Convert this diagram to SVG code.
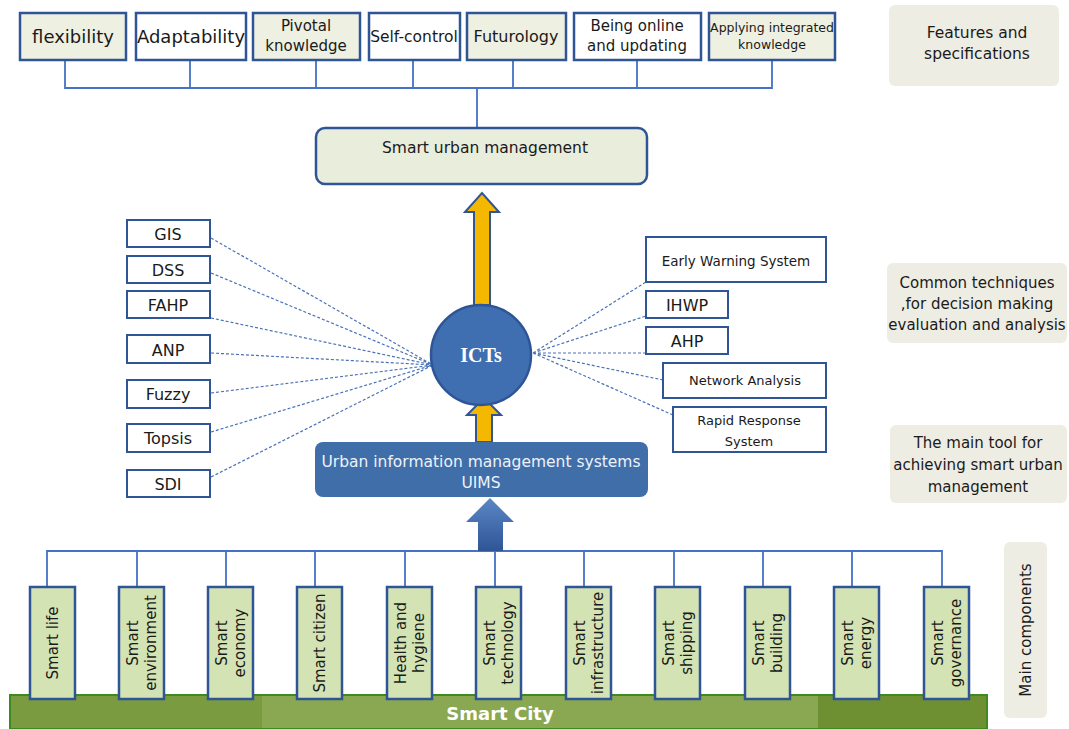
<svg xmlns="http://www.w3.org/2000/svg" width="1069" height="729" viewBox="0 0 1069 729">
<defs>
<style>
text{font-family:"DejaVu Sans","Liberation Sans",sans-serif;fill:#1a1a1a;text-anchor:middle}
.tb{stroke:#2f5597;stroke-width:2.5}
.g{fill:#eef0e1}
.w{fill:#ffffff}
.sb{fill:#ffffff;stroke:#2f5597;stroke-width:2}
.comp{fill:#d4e3b4;stroke:#2f5597;stroke-width:2.5}
.lab{fill:#eeede3}
.ln{stroke:#4472c4;stroke-width:1.8;fill:none}
.ds{stroke:#4a72b8;stroke-width:1.2;stroke-dasharray:3 2;fill:none}
.ya{fill:#f5b800;stroke:#2f5597;stroke-width:2}
</style>
<linearGradient id="ba" x1="0" y1="0" x2="0" y2="1">
<stop offset="0" stop-color="#5b87c5"/><stop offset="1" stop-color="#2f5597"/>
</linearGradient>
</defs>
<rect width="1069" height="729" fill="#ffffff"/>

<!-- Smart City bar -->
<g id="smart-city">
<rect x="10" y="695" width="977" height="34" fill="#7b9b40" stroke="#3f8a1e" stroke-width="2"/>
<rect x="262" y="696" width="556" height="32" fill="#8aa851"/>
<rect x="818" y="696" width="168" height="32" fill="#6f8f33"/>
<text x="500" y="720" font-size="18" font-weight="bold" style="fill:#ffffff">Smart City</text>
</g>

<!-- connectors -->
<g id="connectors">
<path class="ln" d="M65 60V88H772V60M190 60V88M316 60V88M413 60V88M513 60V88M637 60V88M477 88V128"/>
<path class="ln" d="M47 587V551H942V587M137 551V587M226 551V587M315 551V587M405 551V587M495 551V587M584 551V587M674 551V587M763 551V587M852 551V587"/>
<path class="ds" d="M211 238L433 365M211 273L433 365M211 318L433 365M211 353L433 365M211 393L433 365M211 432L433 365M211 477L433 365"/>
<path class="ds" d="M533 353L646 282M533 353L646 316M533 353L646 353M533 353L663 380M533 353L673 415"/>
<path class="ya" d="M474 305V212H465L482 193L499 212H490V305Z"/>
<path class="ya" d="M476 442V415H467L484 398L501 415H492V442Z"/>
<path d="M478 551V522H466L490 498L514 522H503V551Z" fill="url(#ba)"/>
</g>

<!-- top features -->
<g id="flexibility"><rect class="tb g" x="20" y="13" width="106" height="47"/><text x="73" y="43" font-size="18">flexibility</text></g>
<g id="adaptability"><rect class="tb w" x="136" y="13" width="110" height="47"/><text x="191" y="43" font-size="18">Adaptability</text></g>
<g id="pivotal"><rect class="tb g" x="253" y="13" width="107" height="47"/><text x="306" y="31" font-size="15">Pivotal</text><text x="306" y="51" font-size="15">knowledge</text></g>
<g id="self-control"><rect class="tb w" x="369" y="13" width="91" height="47"/><text x="414" y="42" font-size="15.5">Self-control</text></g>
<g id="futurology"><rect class="tb g" x="467" y="13" width="99" height="47"/><text x="516" y="42" font-size="16">Futurology</text></g>
<g id="being-online"><rect class="tb w" x="574" y="13" width="127" height="47"/><text x="637" y="31" font-size="15">Being online</text><text x="637" y="51" font-size="15">and updating</text></g>
<g id="applying"><rect class="tb g" x="709" y="13" width="126" height="47"/><text x="772" y="32" font-size="12.5">Applying integrated</text><text x="772" y="49" font-size="12.5">knowledge</text></g>

<g id="features-label"><rect class="lab" x="889" y="5" width="170" height="81" rx="6"/><text x="977" y="38" font-size="15.5">Features and</text><text x="977" y="59" font-size="15.5">specifications</text></g>

<g id="smart-urban-management"><rect x="316" y="128" width="331" height="56" rx="9" fill="#e9eddc" stroke="#2f5597" stroke-width="2.5"/><text x="485" y="153" font-size="15.5">Smart urban management</text></g>

<g id="icts"><circle cx="481" cy="355" r="50" fill="#3f6fb1" stroke="#2f5597" stroke-width="2.5"/><text x="481" y="362" font-size="20" font-weight="bold" style="font-family:'Liberation Serif',serif;fill:#ffffff">ICTs</text></g>

<!-- left techniques -->
<g id="gis"><rect class="sb" x="127" y="220" width="83" height="27"/><text x="168" y="240" font-size="16">GIS</text></g>
<g id="dss"><rect class="sb" x="127" y="256" width="83" height="27"/><text x="168" y="276" font-size="16">DSS</text></g>
<g id="fahp"><rect class="sb" x="127" y="291" width="83" height="27"/><text x="168" y="311" font-size="16">FAHP</text></g>
<g id="anp"><rect class="sb" x="127" y="335" width="83" height="28"/><text x="168" y="356" font-size="16">ANP</text></g>
<g id="fuzzy"><rect class="sb" x="127" y="380" width="83" height="28"/><text x="168" y="400" font-size="16">Fuzzy</text></g>
<g id="topsis"><rect class="sb" x="127" y="424" width="83" height="28"/><text x="168" y="444" font-size="16">Topsis</text></g>
<g id="sdi"><rect class="sb" x="127" y="470" width="83" height="27"/><text x="168" y="490" font-size="16">SDI</text></g>

<!-- right techniques -->
<g id="early-warning"><rect class="sb" x="646" y="237" width="180" height="45"/><text x="736" y="266" font-size="13.5">Early Warning System</text></g>
<g id="ihwp"><rect class="sb" x="646" y="291" width="82" height="27"/><text x="687" y="311" font-size="16">IHWP</text></g>
<g id="ahp"><rect class="sb" x="646" y="327" width="82" height="27"/><text x="687" y="347" font-size="16">AHP</text></g>
<g id="network-analysis"><rect class="sb" x="663" y="363" width="163" height="35"/><text x="745" y="385" font-size="13">Network Analysis</text></g>
<g id="rapid-response"><rect class="sb" x="673" y="407" width="153" height="45"/><text x="749" y="425" font-size="13">Rapid Response</text><text x="749" y="446" font-size="13">System</text></g>

<g id="common-label"><rect class="lab" x="887" y="263" width="180" height="80" rx="6"/><text x="977" y="288" font-size="15">Common techniques</text><text x="977" y="309" font-size="15">,for decision making</text><text x="977" y="330" font-size="15">evaluation and analysis</text></g>

<g id="uims"><rect x="315" y="442" width="333" height="55" rx="8" fill="#3f6ea8"/><text x="481" y="467" font-size="15.5" style="fill:#eef2fa">Urban information management systems</text><text x="481" y="488" font-size="15.5" style="fill:#eef2fa">UIMS</text></g>

<g id="main-tool-label"><rect class="lab" x="890" y="425" width="177" height="78" rx="6"/><text x="978" y="448" font-size="15">The main tool for</text><text x="978" y="470" font-size="15">achieving smart urban</text><text x="978" y="492" font-size="15">management</text></g>

<!-- components -->
<g id="smart-life"><rect class="comp" x="30" y="587" width="45" height="112"/><text transform="translate(58 643) rotate(-90)" font-size="15">Smart life</text></g>
<g id="smart-environment"><rect class="comp" x="119" y="587" width="45" height="112"/><text transform="translate(138 643) rotate(-90)" font-size="15">Smart</text><text transform="translate(156 643) rotate(-90)" font-size="15">environment</text></g>
<g id="smart-economy"><rect class="comp" x="208" y="587" width="45" height="112"/><text transform="translate(227 643) rotate(-90)" font-size="15">Smart</text><text transform="translate(245 643) rotate(-90)" font-size="15">economy</text></g>
<g id="smart-citizen"><rect class="comp" x="297" y="587" width="45" height="112"/><text transform="translate(325 643) rotate(-90)" font-size="15">Smart citizen</text></g>
<g id="health-hygiene"><rect class="comp" x="387" y="587" width="45" height="112"/><text transform="translate(406 643) rotate(-90)" font-size="15">Health and</text><text transform="translate(424 643) rotate(-90)" font-size="15">hygiene</text></g>
<g id="smart-technology"><rect class="comp" x="476" y="587" width="45" height="112"/><text transform="translate(495 643) rotate(-90)" font-size="15">Smart</text><text transform="translate(513 643) rotate(-90)" font-size="15">technology</text></g>
<g id="smart-infrastructure"><rect class="comp" x="566" y="587" width="45" height="112"/><text transform="translate(585 643) rotate(-90)" font-size="15">Smart</text><text transform="translate(603 643) rotate(-90)" font-size="15">infrastructure</text></g>
<g id="smart-shipping"><rect class="comp" x="655" y="587" width="45" height="112"/><text transform="translate(674 643) rotate(-90)" font-size="15">Smart</text><text transform="translate(692 643) rotate(-90)" font-size="15">shipping</text></g>
<g id="smart-building"><rect class="comp" x="745" y="587" width="45" height="112"/><text transform="translate(764 643) rotate(-90)" font-size="15">Smart</text><text transform="translate(782 643) rotate(-90)" font-size="15">building</text></g>
<g id="smart-energy"><rect class="comp" x="834" y="587" width="45" height="112"/><text transform="translate(853 643) rotate(-90)" font-size="15">Smart</text><text transform="translate(871 643) rotate(-90)" font-size="15">energy</text></g>
<g id="smart-governance"><rect class="comp" x="924" y="587" width="45" height="112"/><text transform="translate(943 643) rotate(-90)" font-size="15">Smart</text><text transform="translate(961 643) rotate(-90)" font-size="15">governance</text></g>

<g id="main-components-label"><rect class="lab" x="1004" y="542" width="43" height="176" rx="6"/><text transform="translate(1031 630) rotate(-90)" font-size="15">Main components</text></g>
</svg>
